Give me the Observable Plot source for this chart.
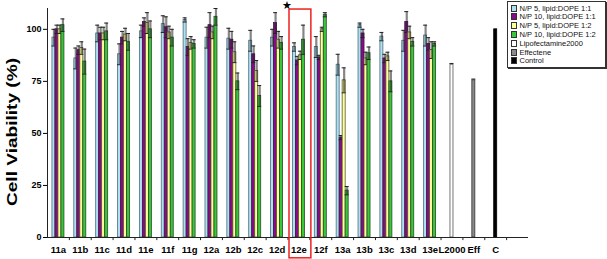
<!DOCTYPE html>
<html><head><meta charset="utf-8">
<script src="https://cdn.jsdelivr.net/npm/d3@7"></script>
<script src="https://cdn.jsdelivr.net/npm/@observablehq/plot@0.6"></script>
<style>
body{margin:0;background:#fff;}
#wrap{position:relative;width:607px;height:259px;overflow:hidden;font-family:"Liberation Sans",Arial,sans-serif;}
#wrap svg{display:block;}
#legend{position:absolute;left:507px;top:1px;width:97px;height:65px;border:1px solid #333;box-shadow:1px 1px 0 #333;background:#fff;font-size:7.5px;color:#111;}
.item{position:absolute;left:3px;height:8px;display:flex;align-items:center;white-space:nowrap;}
.sw{width:4px;height:5px;border:0.8px solid #333;margin-right:2.5px;flex:none;}
</style></head>
<body><div id="wrap"><div id="legend"></div></div>
<script>
// ---- data ----
const categories = ["11a","11b","11c","11d","11e","11f","11g","12a","12b","12c","12d","12e","12f","13a","13b","13c","13d","13e"];
const seriesNames = ["N/P 5, lipid:DOPE 1:1","N/P 10, lipid:DOPE 1:1","N/P 5, lipid:DOPE 1:2","N/P 10, lipid:DOPE 1:2"];
const np5_11  = [96, 86, 98, 88, 99, 102.5, 104.5, 96, 95.5, 94.5, 96, 91.5, 91.5, 83, 102, 96.5, 94.5, 97];
const np10_11 = [100, 90, 98, 96, 103.5, 101, 91.5, 102, 95, 88, 103, 85, 86.5, 48, 98, 86, 103.5, 93];
const np5_12  = [100, 91, 98, 97.5, 103, 98.5, 93.5, 98.5, 89, 80, 95, 87.5, 100, 75.5, 86, 87, 98.5, 90];
const np10_12 = [102, 84.5, 99, 94, 100, 96, 93, 106, 75, 68, 93.5, 95, 107, 22.5, 88.5, 75, 94, 93];
const err_np5_11  = [4, 5, 4, 5, 3, 4, 1, 5, 5, 5, 4, 2, 5, 5, 1, 2, 5, 5];
const err_np10_11 = [2, 2, 3, 3, 2, 5, 4, 6, 4, 4, 5, 2, 1, 1, 2, 2, 5, 3];
const err_np5_12  = [2, 3, 3, 3, 5, 3, 3, 3, 5, 5, 4, 2, 1, 6, 3, 2, 3, 4];
const err_np10_12 = [3, 6, 4, 4, 4, 4, 2, 4, 4, 5, 3, 7, 1, 2, 3, 5, 2, 1];
const controlNames  = ["Lipofectamine2000","Effectene","Control"];
const controlLabels = ["L2000","Eff","C"];
const controlValues = [83, 75.5, 100];
const controlErrors = [0.6, 0.6, 0];
const yTicks = [0, 25, 50, 75, 100];
const highlightCategory = "12e";
const starLabel = "★";

// ---- styling ----
const seriesColors = ["#aee0f0", "#8a0a8a", "#ffff9a", "#36c836"];
const seriesStrokes = ["#4e6e7e", "#3a1a3a", "#555533", "#2a4a2a"];
const controlColors = ["#ffffff", "#8a8a8a", "#000000"];
const controlStrokes = ["#555555", "#333333", "#000000"];

const W = 607, H = 259, mL = 47, mR = 79, mT = 8, mB = 22;
const xDomain = [...categories, ...controlLabels, " "];
const bw = (W - mL - mR) / xDomain.length;
const barW = 3;
const inset = (bw - barW) / 2;
const capInset = (bw - 4) / 2;
const offsets = [-4.5, -1.5, 1.5, 4.5];
const seriesVals = [np5_11, np10_11, np5_12, np10_12];
const seriesErrs = [err_np5_11, err_np10_11, err_np5_12, err_np10_12];

const marks = [];
seriesVals.forEach((vals, k) => {
  const rows = categories.map((c, i) => ({cat: c, v: vals[i], e: seriesErrs[k][i]}));
  marks.push(Plot.barY(rows, {x: "cat", y: "v", fill: seriesColors[k], stroke: seriesStrokes[k], strokeWidth: 0.8, dx: offsets[k], insetLeft: inset, insetRight: inset}));
  marks.push(Plot.ruleX(rows, {x: "cat", y1: d => d.v - d.e, y2: d => d.v + d.e, dx: offsets[k], stroke: "#222", strokeOpacity: 0.55, strokeWidth: 2.2}));
  marks.push(Plot.tickY(rows, {x: "cat", y: d => d.v + d.e, dx: offsets[k], insetLeft: capInset, insetRight: capInset, stroke: "#222", strokeWidth: 1}));
  marks.push(Plot.tickY(rows, {x: "cat", y: d => d.v - d.e, dx: offsets[k], insetLeft: capInset, insetRight: capInset, stroke: "#222", strokeWidth: 1}));
});
const controlRows = controlLabels.map((c, i) => ({cat: c, v: controlValues[i], e: controlErrors[i], fill: controlColors[i], stroke: controlStrokes[i]}));
marks.push(Plot.barY(controlRows, {x: "cat", y: "v", fill: "fill", stroke: "stroke", strokeWidth: 0.8, insetLeft: inset, insetRight: inset}));
marks.push(Plot.tickY(controlRows.filter(d => d.e > 0), {x: "cat", y: d => d.v + d.e, insetLeft: capInset, insetRight: capInset, stroke: "#222", strokeWidth: 1}));

// axes
marks.push(Plot.ruleY([0], {stroke: "#222"}));
marks.push(Plot.ruleX([categories[0]], {x: d => d, dx: -bw / 2, y1: 0, y2: 110, stroke: "#222"}));
marks.push(Plot.ruleX(xDomain.slice(1), {x: d => d, dx: -bw / 2, y1: 0, y2: -1.5, stroke: "#222"}));
marks.push(Plot.axisY({ticks: yTicks, tickSize: 4, tickPadding: 2, fontSize: 9, fontWeight: "bold", label: null}));
marks.push(Plot.axisX({tickSize: 0, tickPadding: 9, fontSize: 9.5, fontWeight: "bold", label: null}));

// highlight
marks.push(Plot.barY([highlightCategory], {x: d => d, y1: -10, y2: 109.5, fill: "none", stroke: "#ee2020", strokeWidth: 1.5, dx: 1.5}));
marks.push(Plot.text([highlightCategory], {x: d => d, y: 111.5, text: () => starLabel, dx: -11.5, fontSize: 11, fill: "#000"}));

const svg = Plot.plot({
  width: W, height: H, marginLeft: mL, marginRight: mR, marginTop: mT, marginBottom: mB,
  x: {type: "band", domain: xDomain, padding: 0, round: false, axis: null},
  y: {domain: [0, 110], axis: null},
  color: {type: "identity"},
  style: {fontFamily: "'Liberation Sans', Arial, sans-serif", background: "white", color: "#000", overflow: "visible"},
  marks
});
d3.select(svg).append("text")
  .attr("transform", "rotate(-90)")
  .attr("x", -132).attr("y", 17)
  .attr("text-anchor", "middle")
  .attr("font-size", 14).attr("font-weight", "bold")
  .attr("textLength", 148).attr("lengthAdjust", "spacingAndGlyphs")
  .attr("fill", "#000")
  .text("Cell Viability (%)");
document.getElementById("wrap").prepend(svg);

// legend
const legend = document.getElementById("legend");
const legNames = [...seriesNames, ...controlNames];
const legColors = [...seriesColors, ...controlColors];
legNames.forEach((n, i) => {
  const it = document.createElement("div");
  it.className = "item";
  it.style.top = (2 + i * 8.8) + "px";
  const sw = document.createElement("span");
  sw.className = "sw";
  sw.style.background = legColors[i];
  it.appendChild(sw);
  const t = document.createElement("span");
  t.textContent = n;
  it.appendChild(t);
  legend.appendChild(it);
});
</script>
</body></html>
